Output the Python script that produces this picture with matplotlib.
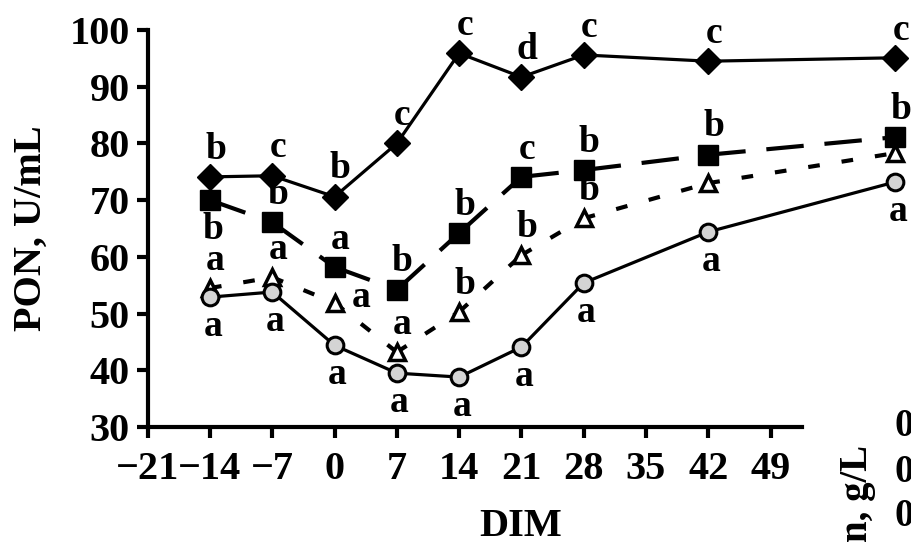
import matplotlib.pyplot as plt

# data
days = [-14, -7, 0, 7, 14, 21, 28, 42, 63]
diamond_vals = [74.1, 74.3, 70.6, 80.0, 95.9, 91.7, 95.6, 94.5, 95.1]
square_vals = [70.0, 66.1, 58.2, 54.2, 64.2, 74.1, 75.3, 78.0, 81.1]
triangle_vals = [54.5, 56.4, 51.9, 43.2, 50.3, 60.3, 66.8, 73.0, 78.3]
circle_vals = [52.9, 53.8, 44.4, 39.5, 38.8, 44.1, 55.4, 64.4, 73.2]

diamond_letters = ['b', 'c', 'b', 'c', 'c', 'd', 'c', 'c', 'c']
square_letters = ['b', 'b', 'a', 'b', 'b', 'c', 'b', 'b', 'b']
triangle_letters = ['a', 'a', 'a', 'a', 'b', 'b', 'b', '', '']
circle_letters = ['a', 'a', 'a', 'a', 'a', 'a', 'a', 'a', 'a']

x_ticks = [-21, -14, -7, 0, 7, 14, 21, 28, 35, 42, 49]
y_ticks = [30, 40, 50, 60, 70, 80, 90, 100]

# where each letter sits relative to its marker
diamond_place = ['above'] * 9
square_place = ['below'] + ['above'] * 8
triangle_place = ['above', 'above', 'right', 'above', 'above', 'above', 'above', 'above', 'above']
circle_place = ['below'] * 9

offsets = {'above': (4, 20), 'below': (2, -21), 'right': (19, 4)}

plt.rcParams['font.family'] = 'Liberation Serif'
plt.rcParams['font.weight'] = 'bold'

fig = plt.figure(figsize=(9.11, 5.44), dpi=100)
ax = fig.add_axes([147.7 / 911, 1 - 427 / 544, 654 / 911, 397 / 544])


def dashed_segments(ax, xs, ys, dashes, z):
    # dash pattern restarts at every point, like the original
    for x0, x1, y0, y1 in zip(xs[:-1], xs[1:], ys[:-1], ys[1:]):
        ax.plot([x0, x1], [y0, y1], color='black', lw=3, dashes=dashes,
                solid_capstyle='butt', dash_capstyle='butt', clip_on=False, zorder=z)


ax.plot(days, diamond_vals, color='black', lw=2.3, marker='D', ms=13.5,
        mfc='black', mec='black', clip_on=False, zorder=3)

dashed_segments(ax, days, square_vals, (9, 5), 4)
ax.plot(days, square_vals, ls='none', marker='s', ms=14, mfc='black',
        mec='black', clip_on=False, zorder=4)

dashed_segments(ax, days, triangle_vals, (2.8, 5.3), 5)
ax.plot(days, triangle_vals, ls='none', marker='^', ms=12, mfc='white',
        mec='black', mew=2.5, clip_on=False, zorder=5)

ax.plot(days, circle_vals, color='black', lw=2.3, marker='o', ms=12,
        mfc='#d4d4d4', mec='black', mew=2.2, clip_on=False, zorder=6)

for vals, letters, places in [(diamond_vals, diamond_letters, diamond_place),
                              (square_vals, square_letters, square_place),
                              (triangle_vals, triangle_letters, triangle_place),
                              (circle_vals, circle_letters, circle_place)]:
    for d, v, t, p in zip(days, vals, letters, places):
        if t:
            ax.annotate(t, (d, v), xytext=offsets[p], textcoords='offset points',
                        ha='center', va='center', fontsize=27, fontweight='bold',
                        annotation_clip=False, zorder=7)

ax.set_xlim(-21, 52.5)
ax.set_ylim(30, 100)
ax.set_xticks(x_ticks)
ax.set_yticks(y_ticks)
ax.set_xticklabels([str(t).replace('-', '\u2212') for t in x_ticks])
ax.tick_params(axis='both', direction='out', length=8, width=3, labelsize=29, pad=5)
ax.tick_params(axis='x', pad=9)
ax.spines['top'].set_visible(False)
ax.spines['right'].set_visible(False)
ax.spines['left'].set_linewidth(3)
ax.spines['bottom'].set_linewidth(3)

fig.text(31 / 911, 1 - 228 / 544, 'PON, U/mL', rotation=90, ha='center', va='center',
         fontsize=29, fontweight='bold')
fig.text(521 / 911, 1 - 527 / 544, 'DIM', ha='center', va='center',
         fontsize=29, fontweight='bold')

# piece of the neighbouring panel cut off at the right edge
fig.text(857 / 911, 1 - 445 / 544, 'n, g/L', rotation=90, ha='center', va='top',
         fontsize=28, fontweight='bold')
for yy in [427, 472, 517]:
    fig.text(895 / 911, 1 - yy / 544, '0', ha='left', va='center', fontsize=28)

fig.savefig('out.png', dpi=100)
